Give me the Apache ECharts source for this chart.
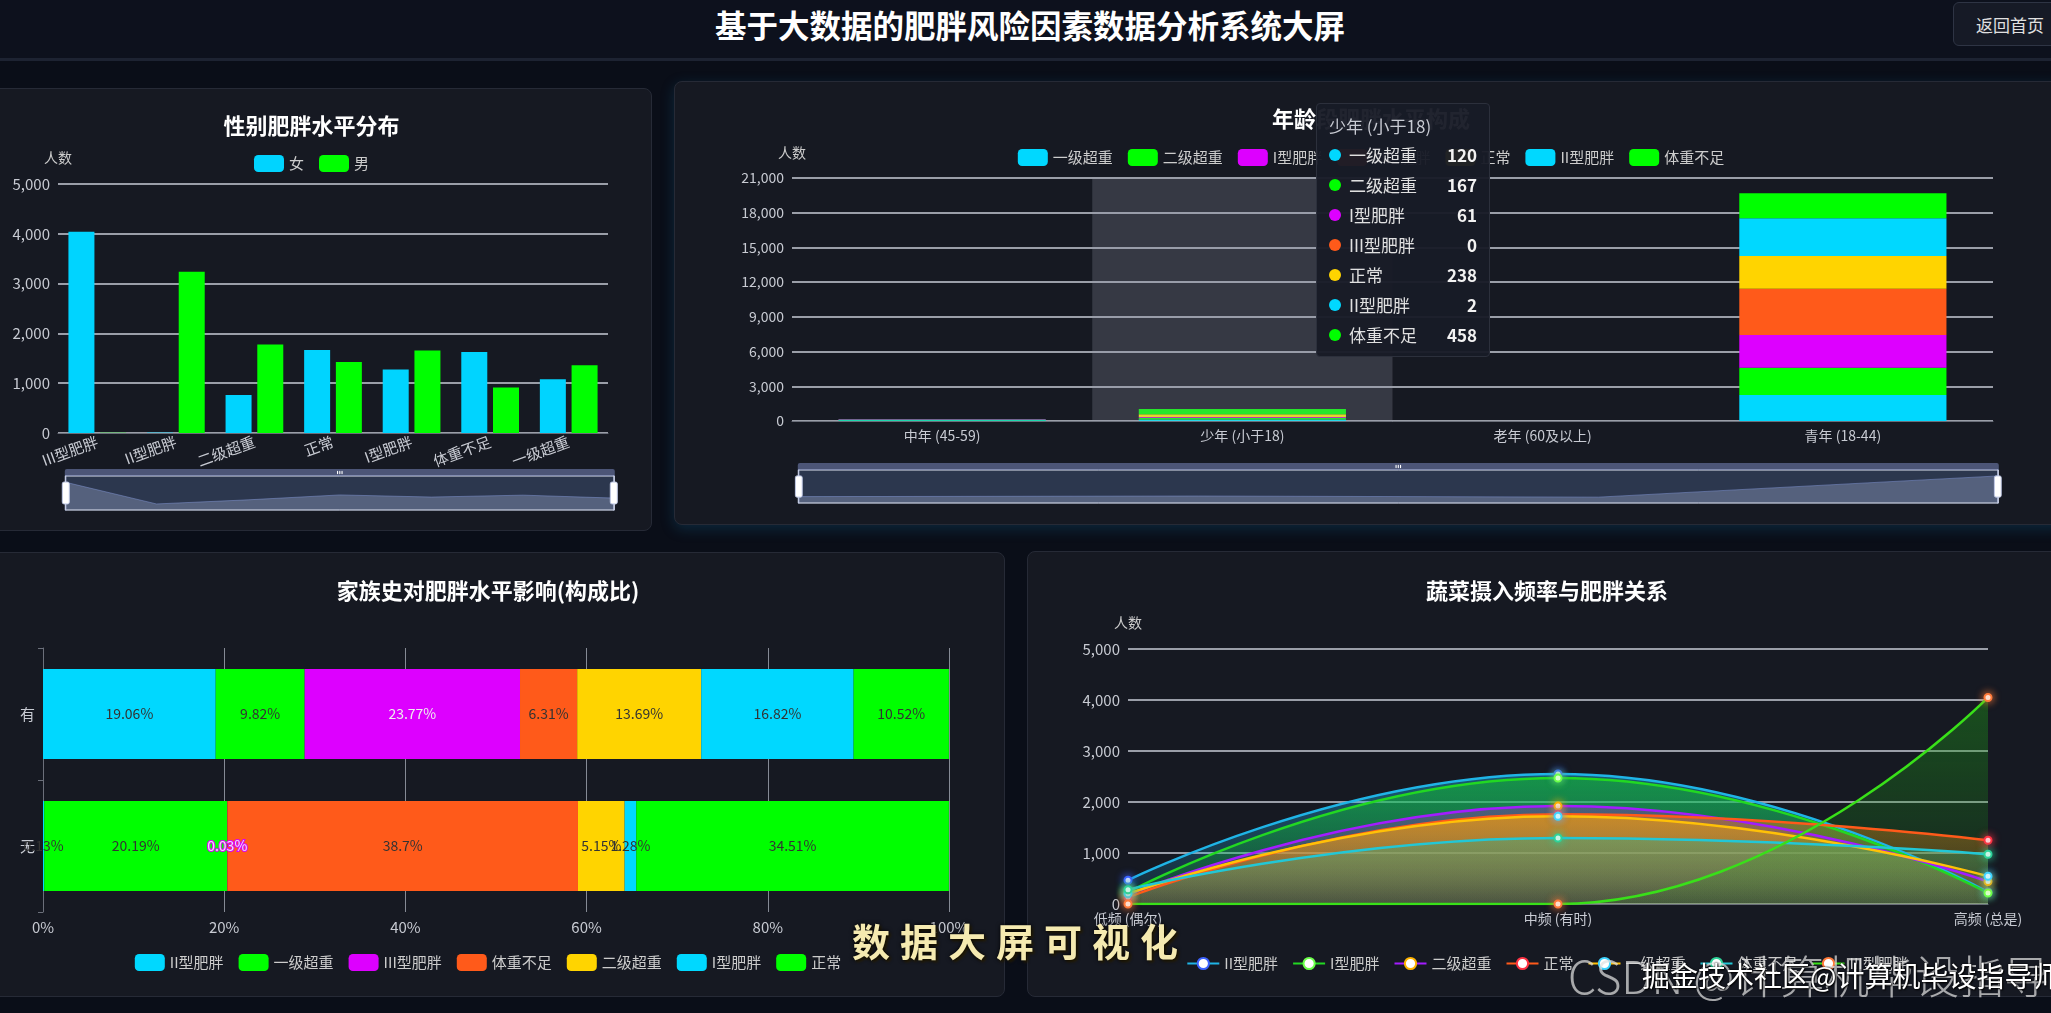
<!DOCTYPE html>
<html>
<head>
<meta charset="utf-8">
<script src="https://cdn.jsdelivr.net/npm/echarts/dist/echarts.min.js"></script>
<style>
html,body{margin:0;padding:0;width:2051px;height:1013px;overflow:hidden;background:#0a0e18;font-family:"Noto Sans CJK SC","Noto Sans",sans-serif;}
#header{position:absolute;left:0;top:0;width:2051px;height:58px;background:#0d111d;border-bottom:3px solid #1d2332;}
#title{position:absolute;left:0;top:0;width:2060px;height:48px;line-height:48px;text-align:center;color:#fff;font-size:31.5px;font-weight:bold;}
#back{position:absolute;left:1953px;top:2px;width:130px;height:44px;line-height:44px;padding-left:22px;box-sizing:border-box;background:#161a26;border:1px solid #2e3444;border-radius:6px;color:#e0e0e0;font-size:17px;}
.panel{position:absolute;background:#161922;border:1px solid #262a36;border-radius:8px;overflow:hidden;box-sizing:border-box;}
.chart{position:absolute;left:0;top:0;}
#wm1{position:absolute;left:852px;top:912px;font-size:38px;letter-spacing:10px;color:#f5eab0;font-weight:bold;text-shadow:0 0 4px #000,2px 2px 3px #2a2000;white-space:nowrap;}
#wm2{position:absolute;left:1568px;top:945px;font-size:45px;color:rgba(225,225,225,0.72);font-weight:300;white-space:nowrap;line-height:60px;}
#wm3{position:absolute;left:1642px;top:957px;font-size:28px;color:#fff;white-space:nowrap;line-height:36px;text-shadow:0 0 2px #000,1px 1px 2px #000;}
</style>
</head>
<body>
<div id="header"><div id="title">基于大数据的肥胖风险因素数据分析系统大屏</div><div id="back">返回首页</div></div>

<div class="panel" style="left:-31px;top:88px;width:683px;height:443px;"><div id="c1" class="chart" style="width:683px;height:443px;"></div></div>
<div class="panel" style="left:674px;top:81px;width:1392px;height:444px;box-shadow:0 4px 14px rgba(20,120,170,0.25);"><div id="c2" class="chart" style="width:1392px;height:444px;"></div></div>
<div class="panel" style="left:-31px;top:552px;width:1036px;height:445px;"><div id="c3" class="chart" style="width:1036px;height:445px;"></div></div>
<div class="panel" style="left:1027px;top:551px;width:1038px;height:446px;"><div id="c4" class="chart" style="width:1038px;height:446px;"></div></div>

<div id="wm1">数据大屏可视化</div>
<div id="wm2">CSDN @计算机毕设指导师</div>
<div id="wm3">掘金技术社区@计算机毕设指导师</div>

<script>
// ---------- DATA ----------
// Panel 1: gender vs obesity level
const genderCats = ['III型肥胖', 'II型肥胖', '二级超重', '正常', 'I型肥胖', '体重不足', '一级超重'];
const femaleVals = [4040, 8, 765, 1669, 1277, 1628, 1081];
const maleVals = [5, 3240, 1777, 1426, 1655, 912, 1358];

// Panel 2: age group composition (stacked)
const ageCats = ['中年 (45-59)', '少年 (小于18)', '老年 (60及以上)', '青年 (18-44)'];
const ageNames = ['一级超重', '二级超重', 'I型肥胖', 'III型肥胖', '正常', 'II型肥胖', '体重不足'];
const ageOW1 = [55, 120, 2, 2247];
const ageOW2 = [40, 167, 1, 2361];
const ageObI = [30, 61, 0, 2824];
const ageObIII = [10, 0, 0, 4002];
const ageNormal = [25, 238, 1, 2825];
const ageObII = [3, 2, 0, 3258];
const ageUnder = [10, 458, 0, 2160];

// Panel 3: family history (percent composition)
const familyCats = ['无', '有'];
const famNames = ['II型肥胖', '一级超重', 'III型肥胖', '体重不足', '二级超重', 'I型肥胖', '正常'];
const famObII = [0.13, 19.06];
const famOW1 = [20.19, 9.82];
const famObIII = [0.03, 23.77];
const famUnder = [38.7, 6.31];
const famOW2 = [5.15, 13.69];
const famObI = [1.28, 16.82];
const famNormal = [34.51, 10.52];

// Panel 4: vegetable intake frequency
const vegCats = ['低频 (偶尔)', '中频 (有时)', '高频 (总是)'];
const vegNames = ['II型肥胖', 'I型肥胖', '二级超重', '正常', '一级超重', '体重不足', 'III型肥胖'];
const vegObII = [465, 2550, 235];
const vegObI = [230, 2470, 215];
const vegOW2 = [180, 1920, 440];
const vegNormal = [130, 1760, 1250];
const vegOW1 = [200, 1720, 545];
const vegUnder = [280, 1295, 975];
const vegObIII = [0, 0, 4050];

// ---------- STYLES ----------
const FONT = '"Noto Sans CJK SC", "Noto Sans", sans-serif';
const CYAN = '#00d8ff', GREEN = '#00ff00', MAG = '#dd00ff', ORANGE = '#ff5a1a', YELLOW = '#ffd400';
const labelColor = '#c8cbd3';
const splitStyle = { color: '#9a9ea8', width: 2 };
const axisLineStyle = { color: '#6b6f7a' };
const titleStyle = { color: '#fff', fontSize: 22, fontWeight: 'bold' };
const legendBase = { padding: 0, itemWidth: 30, itemHeight: 17, itemGap: 15, textStyle: { color: '#ccc', fontSize: 15 } };

function hexA(hex, a) {
  const n = parseInt(hex.slice(1), 16);
  return 'rgba(' + (n >> 16 & 255) + ',' + (n >> 8 & 255) + ',' + (n & 255) + ',' + a + ')';
}

// ---------- CHART 1 ----------
const c1 = echarts.init(document.getElementById('c1'));
c1.setOption({
  animation: false,
  textStyle: { fontFamily: FONT },
  title: { text: '性别肥胖水平分布', left: 'center', top: 26, padding: 0, textStyle: titleStyle },
  legend: Object.assign({ top: 66, data: ['女', '男'] }, legendBase),
  grid: { left: 88, top: 95, width: 550, height: 249, outerBoundsMode: 'none' },
  xAxis: { type: 'category', data: genderCats, axisLine: { lineStyle: axisLineStyle },
    axisLabel: { color: labelColor, fontSize: 15, rotate: 20, interval: 0 } },
  yAxis: { type: 'value', name: '人数', nameGap: 19, nameTextStyle: { color: '#ccc', fontSize: 14 },
    min: 0, max: 5000, interval: 1000, axisLabel: { color: labelColor, fontSize: 15 },
    splitLine: { lineStyle: splitStyle }, axisLine: { show: false } },
  dataZoom: [{ type: 'slider', xAxisIndex: 0, left: 92, width: 550, top: 380, height: 35, start: 0, end: 100, showDetail: false }],
  series: [
    { name: '女', type: 'bar', data: femaleVals, barWidth: 26, barGap: '22%', itemStyle: { color: '#00d4ff' } },
    { name: '男', type: 'bar', data: maleVals, barWidth: 26, barGap: '22%', itemStyle: { color: GREEN } }
  ]
});

// ---------- CHART 2 ----------
const ageData = [ageOW1, ageOW2, ageObI, ageObIII, ageNormal, ageObII, ageUnder];
const ageColors = [CYAN, GREEN, MAG, ORANGE, YELLOW, CYAN, GREEN];
const c2 = echarts.init(document.getElementById('c2'));
c2.setOption({
  animation: false,
  textStyle: { fontFamily: FONT },
  title: { text: '年龄段肥胖水平构成', left: 'center', top: 26, padding: 0, textStyle: titleStyle },
  legend: Object.assign({ top: 67, data: ageNames }, legendBase),
  grid: { left: 117, top: 96, width: 1201, height: 243, outerBoundsMode: 'none' },
  tooltip: {
    trigger: 'axis', axisPointer: { type: 'shadow', shadowStyle: { color: 'rgba(150,155,170,0.25)' } },
    position: [641, 21], alwaysShowContent: true, transitionDuration: 0,
    backgroundColor: 'rgba(24,27,38,0.96)', borderColor: '#2c303c', borderWidth: 1,
    padding: [8, 12, 6, 12], extraCssText: 'box-shadow:none;width:148px;border-radius:4px;font-family:' + FONT + ';',
    formatter: function (params) {
      let h = '<div style="font-size:17px;color:#c8cbd3;line-height:28px;height:28px;">' + params[0].axisValueLabel + '</div>';
      params.forEach(function (p) {
        h += '<div style="display:flex;align-items:center;height:30px;font-size:17px;line-height:30px;">' +
          '<span style="display:inline-block;width:12px;height:12px;border-radius:6px;background:' + p.color + ';margin-right:8px;"></span>' +
          '<span style="color:#e0e0e0;flex:1;">' + p.seriesName + '</span>' +
          '<span style="color:#f2f2f2;font-weight:bold;">' + p.value + '</span></div>';
      });
      return h;
    }
  },
  xAxis: { type: 'category', data: ageCats, axisLine: { lineStyle: axisLineStyle },
    axisLabel: { color: labelColor, fontSize: 14 } },
  yAxis: { type: 'value', name: '人数', nameGap: 18, nameTextStyle: { color: '#ccc', fontSize: 14 },
    min: 0, max: 21000, interval: 3000, axisLabel: { color: labelColor, fontSize: 14 },
    splitLine: { lineStyle: splitStyle }, axisLine: { show: false } },
  dataZoom: [{ type: 'slider', xAxisIndex: 0, left: 120, width: 1201, top: 381, height: 34, start: 0, end: 100, showDetail: false }],
  series: ageNames.map(function (n, i) {
    return { name: n, type: 'bar', stack: 'age', barCategoryGap: '31%', data: ageData[i], itemStyle: { color: ageColors[i] } };
  })
});

// ---------- CHART 3 ----------
const famData = [famObII, famOW1, famObIII, famUnder, famOW2, famObI, famNormal];
const famColors = [CYAN, GREEN, MAG, ORANGE, YELLOW, CYAN, GREEN];
const c3 = echarts.init(document.getElementById('c3'));
c3.setOption({
  animation: false,
  textStyle: { fontFamily: FONT },
  title: { text: '家族史对肥胖水平影响(构成比)', left: 'center', top: 27, padding: 0, textStyle: titleStyle },
  legend: Object.assign({ top: 401, data: famNames }, legendBase),
  grid: { left: 73, top: 95, width: 906, height: 264, outerBoundsMode: 'none' },
  xAxis: { type: 'value', min: 0, max: 100, interval: 20, axisLabel: { formatter: '{value}%', color: labelColor, fontSize: 15 },
    splitLine: { lineStyle: { color: '#858a95', width: 1 } }, axisLine: { show: false }, axisTick: { show: false } },
  yAxis: { type: 'category', data: familyCats, axisLine: { show: true, lineStyle: axisLineStyle }, axisTick: { show: true },
    axisLabel: { color: labelColor, fontSize: 15 } },
  series: famNames.map(function (n, i) {
    return { name: n, type: 'bar', stack: 'fam', barCategoryGap: '32%', data: famData[i], itemStyle: { color: famColors[i] },
      label: { show: true, formatter: '{c}%', fontSize: 14 } };
  })
});

// ---------- CHART 4 ----------
const vegData = [vegObII, vegObI, vegOW2, vegNormal, vegOW1, vegUnder, vegObIII];
const vegLine = ['#1fb4e6', '#22d822', '#a31cff', '#ff5a1a', '#ffc107', '#22c7d6', '#39e019'];
const vegDot = ['#3d63ff', '#6cff4a', '#ffb300', '#ff3344', '#3fd4ff', '#2ed39a', '#ff7a3a'];
const vegArea = ['#1fb4e6', '#13c02a', '#9a30c0', '#ff7a1a', '#ffb000', '#2fb08a', '#1f9a1a'];
const vegAreaTop = [0.6, 0.8, 0.6, 0.65, 0.65, 0.6, 0.6];
const c4 = echarts.init(document.getElementById('c4'));
c4.setOption({
  animation: false,
  textStyle: { fontFamily: FONT },
  title: { text: '蔬菜摄入频率与肥胖关系', left: 'center', top: 28, padding: 0, textStyle: titleStyle },
  legend: { top: 404, padding: 0, itemWidth: 32, itemHeight: 14, itemGap: 14, textStyle: { color: '#ccc', fontSize: 15 }, data: vegNames },
  grid: { left: 100, top: 97, width: 860, height: 255, outerBoundsMode: 'none' },
  xAxis: { type: 'category', boundaryGap: false, data: vegCats, axisLine: { lineStyle: axisLineStyle }, axisTick: { show: false },
    axisLabel: { color: labelColor, fontSize: 14 } },
  yAxis: { type: 'value', name: '人数', nameGap: 19, nameTextStyle: { color: '#ccc', fontSize: 14 },
    min: 0, max: 5000, interval: 1000, axisLabel: { color: labelColor, fontSize: 15 },
    splitLine: { lineStyle: splitStyle }, axisLine: { show: false } },
  series: vegNames.map(function (n, i) {
    return { name: n, type: 'line', smooth: true, data: vegData[i], symbol: 'emptyCircle', symbolSize: 7,
      lineStyle: { color: vegLine[i], width: 2.5 },
      itemStyle: { color: vegDot[i], shadowBlur: 8, shadowColor: vegDot[i] },
      areaStyle: { color: new echarts.graphic.LinearGradient(0, 0, 0, 1, [
        { offset: 0, color: hexA(vegArea[i], vegAreaTop[i]) }, { offset: 1, color: hexA(vegArea[i], 0.14) }]) } };
  })
});

function showTip() { c2.dispatchAction({ type: 'showTip', seriesIndex: 0, dataIndex: 1 }); }
showTip();
setTimeout(showTip, 50);
</script>
</body>
</html>
